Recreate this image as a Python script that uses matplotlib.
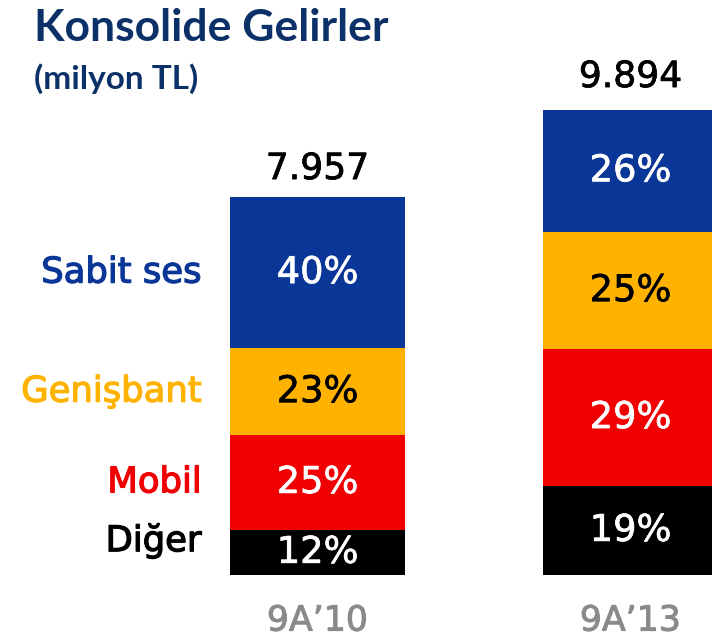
import numpy as np
import matplotlib.pyplot as plt
import matplotlib.patheffects as pe

plt.rcParams['font.family'] = ['DejaVu Sans']

# data
periods = ["9A\u201910", "9A\u201913"]
totals = [7957, 9894]
totals_text = ["7.957", "9.894"]
segments = ["Diğer", "Mobil", "Genişbant", "Sabit ses"]  # bottom to top
shares = {
    "Diğer": [12, 19],
    "Mobil": [25, 29],
    "Genişbant": [23, 25],
    "Sabit ses": [40, 26],
}
colors = {
    "Diğer": "#000000",
    "Mobil": "#f00000",
    "Genişbant": "#ffb300",
    "Sabit ses": "#0a3697",
}
text_colors = {
    "Diğer": "white",
    "Mobil": "white",
    "Genişbant": "black",
    "Sabit ses": "white",
}


def medium(color, lw=0.5):
    # thicken the regular weight a bit, the original uses a medium face
    return [pe.withStroke(linewidth=lw, foreground=color)]


fig = plt.figure(figsize=(7.12, 6.42), dpi=100)
ax = fig.add_axes([0, 0, 1, 1])
ax.set_xlim(-1.0144, 1.2604)
ax.set_ylim(-1410, 12104)
ax.axis('off')

x = np.arange(len(periods))
width = 0.559
bottom = np.zeros(len(periods))
for seg in segments:
    vals = np.array(shares[seg]) / 100 * np.array(totals)
    ax.bar(x, vals, width, bottom=bottom, color=colors[seg], linewidth=0)
    for i in range(len(periods)):
        ax.text(x[i], bottom[i] + vals[i] / 2, f"{shares[seg][i]}%",
                ha='center', va='center', fontsize=26.5, color=text_colors[seg],
                path_effects=medium(text_colors[seg]))
    bottom += vals

for i in range(len(periods)):
    ax.text(x[i], totals[i] + 230, totals_text[i], ha='center', va='bottom',
            fontsize=26, color='black', path_effects=medium('black'))
    ax.text(x[i], -960, periods[i], ha='center', va='center', fontsize=25,
            color='#8a8a8a', path_effects=medium('#8a8a8a', 0.7))

# category labels next to the first bar
bottom = 0
label_offsets = {"Diğer": 250, "Mobil": 0, "Genişbant": 0, "Sabit ses": 0}
for seg in segments:
    v = shares[seg][0] / 100 * totals[0]
    ax.text(-0.37, bottom + v / 2 + label_offsets[seg], seg, ha='right', va='center',
            fontsize=25.5, color=colors[seg], path_effects=medium(colors[seg], 0.9))
    bottom += v

fig.text(0.048, 0.957, "Konsolide Gelirler", ha='left', va='center', fontsize=32,
         fontweight='bold', color='#0b3168', family='Lato')
fig.text(0.048, 0.877, "(milyon TL)", ha='left', va='center', fontsize=24,
         fontweight='bold', color='#0b3168', family='Lato')

fig.savefig("out.png", dpi=100)
